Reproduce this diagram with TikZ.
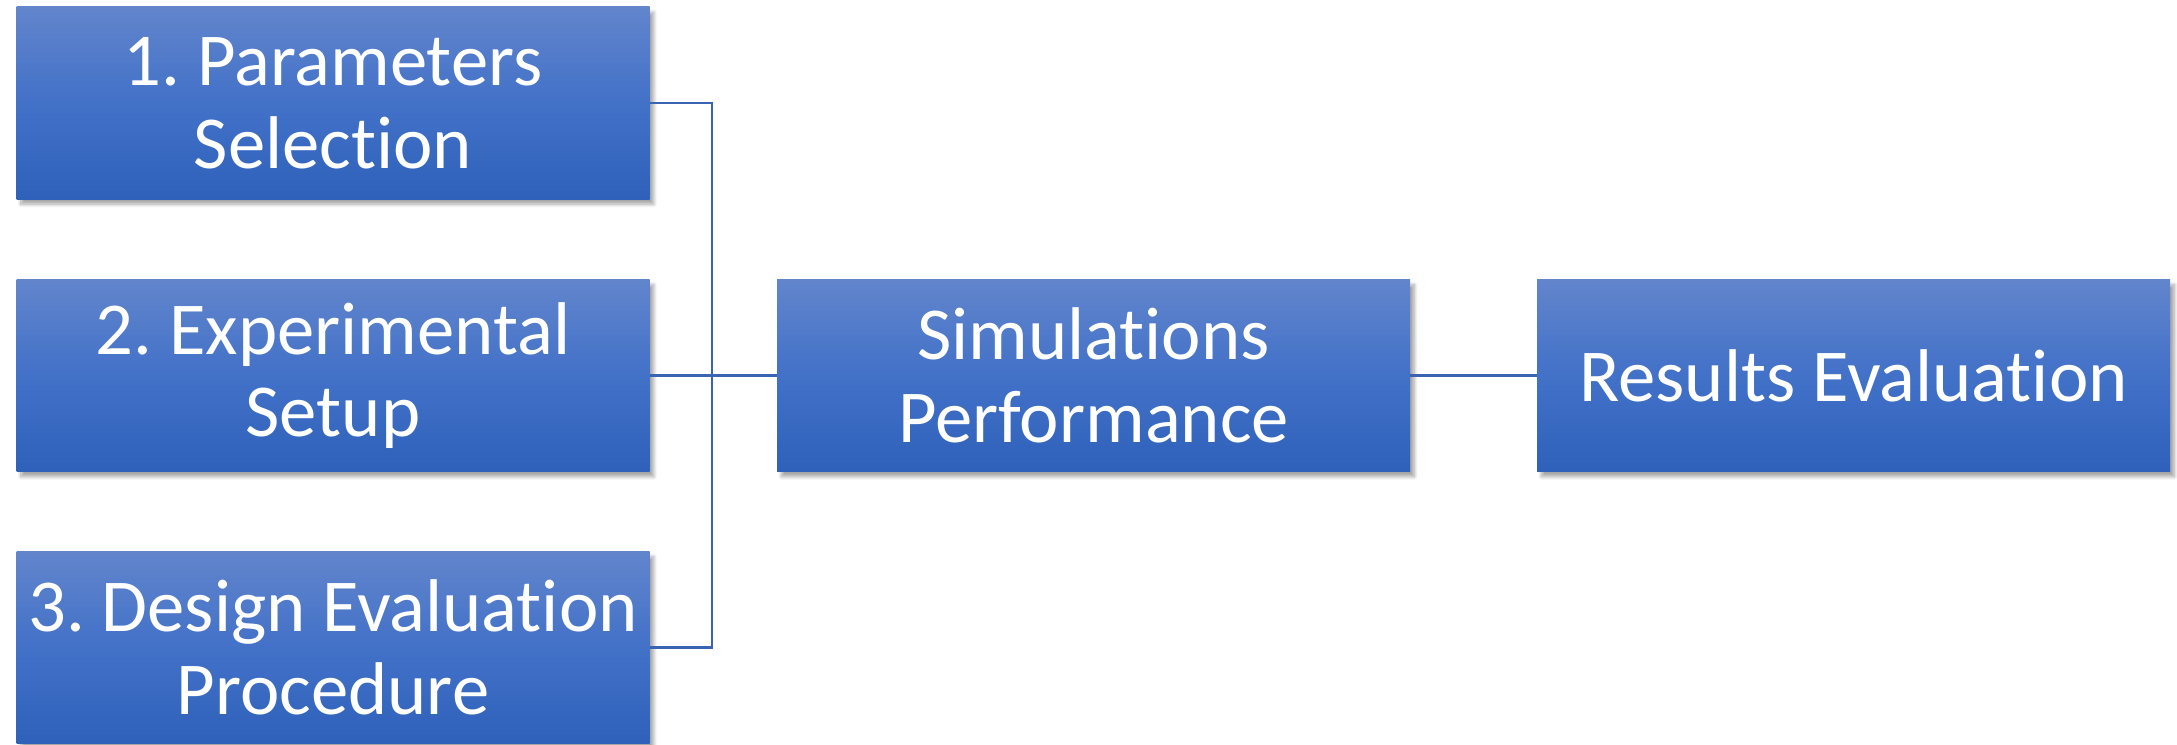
\documentclass[tikz,border=0pt]{standalone}
\usepackage{fontspec}
\setmainfont{Carlito}[Ligatures=NoCommon]
\usepackage{xcolor}
\usetikzlibrary{shadows.blur}
\frenchspacing

\definecolor{boxtop}{RGB}{98,133,204}
\definecolor{boxmid}{RGB}{66,113,200}
\definecolor{boxbot}{RGB}{47,97,186}
\definecolor{linkblue}{RGB}{58,99,178}

\begin{document}
\begin{tikzpicture}[
    stage/.style={rectangle,inner sep=0pt,minimum width=12.66cm,minimum height=3.84cm,
      top color=boxtop,bottom color=boxbot,middle color=boxmid,text=white,align=center,
      font=\fontsize{42.5}{47}\selectfont,
      blur shadow={shadow xshift=2.5pt,shadow yshift=-3pt,shadow blur steps=10,shadow opacity=35}},
    link/.style={draw=linkblue,line width=1.6pt}]
    \useasboundingbox (0,0) rectangle (43.54,14.88);
    \node[stage] (param) at (6.66,12.82) {1. Parameters\\Selection};
    \node[stage] (setup) at (6.66,7.37) {2. Experimental\\Setup};
    \node[stage] (design) at (6.66,1.93) {3. Design Evaluation\\Procedure};
    \node[stage] (sim) at (21.87,7.37) {Simulations\\Performance};
    \node[stage] (res) at (37.07,7.37) {Results Evaluation};
    \coordinate (join) at (14.24,7.37);
    % the three steps feed into the simulations
    \draw[link] (param.east) -| (join) |- (design.east);
    \draw[link] (setup.east) -- (sim.west);
    \draw[link] (sim.east) -- (res.west);
\end{tikzpicture}
\end{document}
